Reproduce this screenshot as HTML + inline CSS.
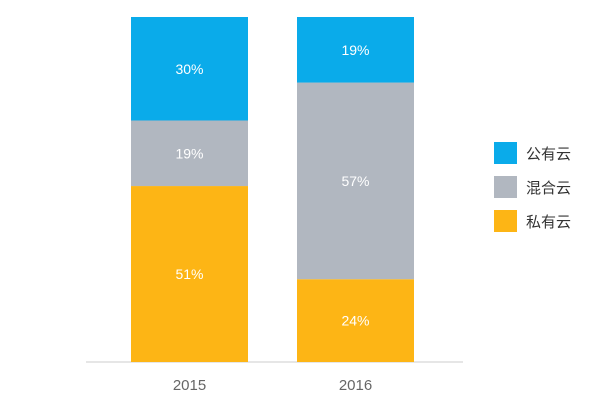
<!DOCTYPE html>
<html><head><meta charset="utf-8"><style>
body{margin:0;background:#fff;}
svg{display:block;font-family:"Liberation Sans","Noto Sans CJK SC",sans-serif;}
</style></head><body>
<svg id="c" width="600" height="401">
<line x1="86" y1="362" x2="463" y2="362" stroke="#e6e6e6" stroke-width="2"/>
</svg>
<script>
const categories=["2015","2016"];
const seriesNames=["私有云","混合云","公有云"];
const privateVals=[51,24];
const hybridVals=[19,57];
const publicVals=[30,19];
const colors=["#fdb515","#b1b7c0","#0aabea"];
const svg=document.getElementById('c');
const NS="http://www.w3.org/2000/svg";
const top0=17,bottom0=362,barW=117;
const xs=i=>131+i*166;
const y=v=>bottom0-(v/100)*(bottom0-top0);
const series=[privateVals,hybridVals,publicVals];
categories.forEach((cat,i)=>{
  let acc=0;
  series.forEach((arr,s)=>{
    const v=arr[i];
    const r=document.createElementNS(NS,'rect');
    r.setAttribute('x',xs(i));r.setAttribute('width',barW);
    r.setAttribute('y',y(acc+v));r.setAttribute('height',y(acc)-y(acc+v));
    r.setAttribute('fill',colors[s]);
    
    
    svg.appendChild(r);
    const t=document.createElementNS(NS,'text');
    t.setAttribute('x',xs(i)+barW/2);t.setAttribute('y',(y(acc)+y(acc+v))/2+5);
    t.setAttribute('text-anchor','middle');t.setAttribute('fill','#fff');t.setAttribute('font-size','14');
    t.textContent=v+'%';
    
    
    svg.appendChild(t);
    acc+=v;
  });
  const lt=document.createElementNS(NS,'text');
  lt.setAttribute('x',xs(i)+barW/2);lt.setAttribute('y',390);
  lt.setAttribute('text-anchor','middle');lt.setAttribute('fill','#666');lt.setAttribute('font-size','15');
  lt.textContent=cat;
  
  
  svg.appendChild(lt);
});
const legendOrder=[2,1,0];
legendOrder.forEach((s,k)=>{
  const yy=142+k*34;
  const r=document.createElementNS(NS,'rect');
  r.setAttribute('x',494);r.setAttribute('y',yy);r.setAttribute('width',23);r.setAttribute('height',22);
  r.setAttribute('fill',colors[s]);
  
  
  svg.appendChild(r);
  const t=document.createElementNS(NS,'text');
  t.setAttribute('x',526);t.setAttribute('y',yy+17);t.setAttribute('font-size','15');t.setAttribute('fill','#333');
  t.textContent=seriesNames[s];
  
  
  svg.appendChild(t);
});
</script>
</body></html>
